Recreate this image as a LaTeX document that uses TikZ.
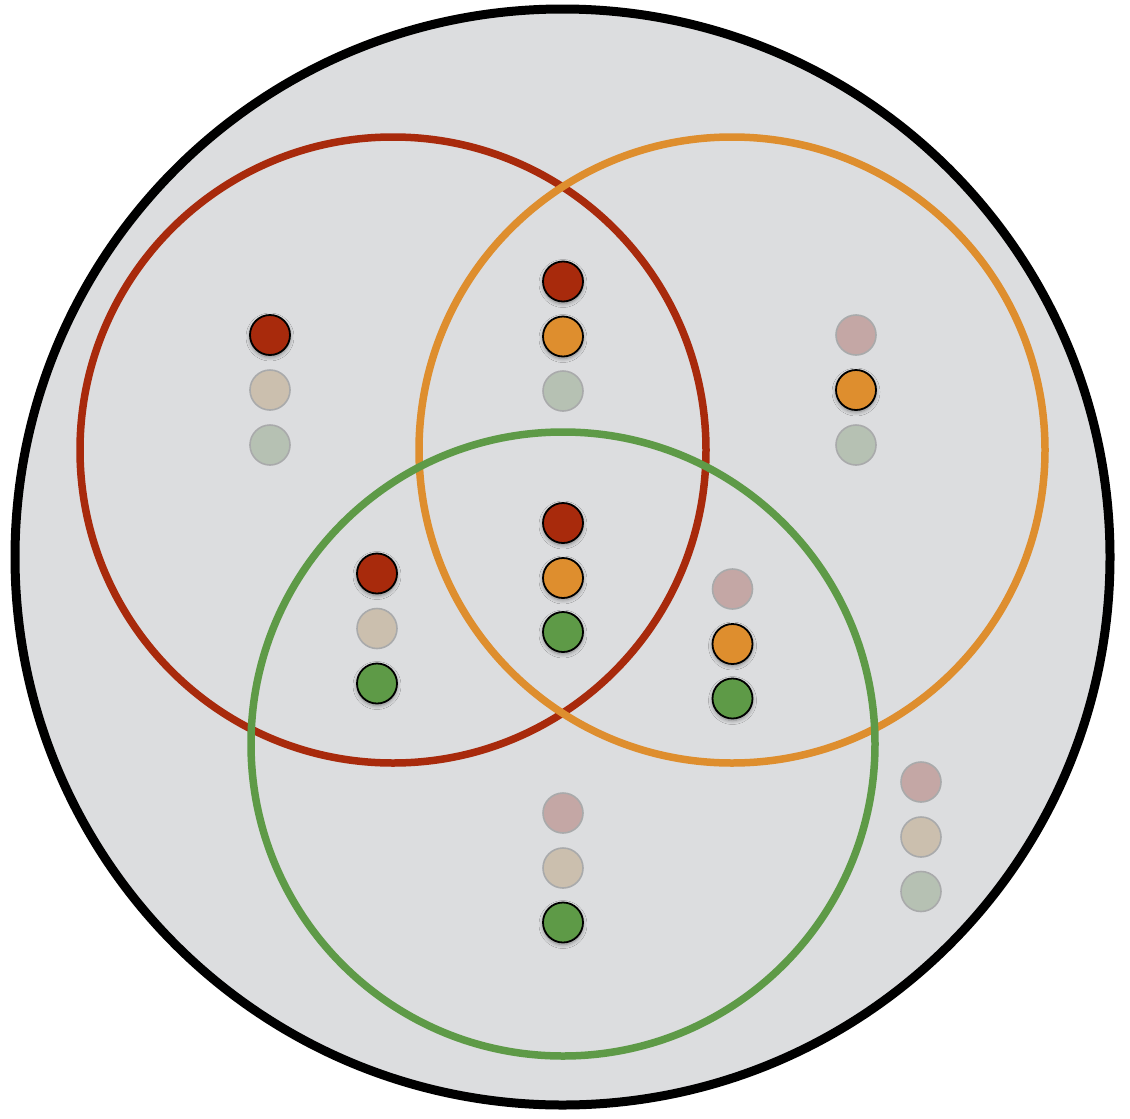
\documentclass[tikz,border=0pt]{standalone}
\usetikzlibrary{shadows.blur}
\definecolor{bgray}{HTML}{DCDDDF}
\definecolor{cred}{HTML}{A82A0C}
\definecolor{corange}{HTML}{DE8E2E}
\definecolor{cgreen}{HTML}{5E9A47}
\definecolor{fred}{HTML}{C4A7A5}
\definecolor{ftan}{HTML}{CBBFAE}
\definecolor{fgreen}{HTML}{B6C1B3}
\definecolor{fborder}{HTML}{A9AAAB}
\tikzset{
  dot/.style={circle, minimum size=40pt, inner sep=0pt, line width=1.8pt, draw=black,
    blur shadow={shadow xshift=0pt, shadow yshift=-2pt, shadow blur steps=8, shadow blur radius=4pt, shadow opacity=40}},
  fdot/.style={circle, minimum size=40pt, inner sep=0pt, line width=1.6pt, draw=fborder},
  ring/.style={line width=7.5pt},
}
\begin{document}
\begin{tikzpicture}[x=1pt,y=-1pt]
\useasboundingbox (0,0) rectangle (1130,1119);
\fill[white] (0,0) rectangle (1130,1119);
% universe
\filldraw[fill=bgray, draw=black, line width=9pt] (562.5,557) ellipse [x radius=547.5, y radius=548];
% sets
\draw[ring, cred] (393,450) circle [radius=313];
\draw[ring, corange] (732,450) circle [radius=313];
\draw[ring, cgreen] (563,744) circle [radius=312];
% red only
\node[dot, fill=cred] (r1) at (270,335) {};
\node[fdot, fill=ftan] (r2) at (270,390) {};
\node[fdot, fill=fgreen] (r3) at (270,445) {};
% red & orange
\node[dot, fill=cred] (ro1) at (563,281.5) {};
\node[dot, fill=corange] (ro2) at (563,336.5) {};
\node[fdot, fill=fgreen] (ro3) at (563,391) {};
% orange only
\node[fdot, fill=fred] (o1) at (856,335) {};
\node[dot, fill=corange] (o2) at (856,390) {};
\node[fdot, fill=fgreen] (o3) at (856,445) {};
% all three
\node[dot, fill=cred] (a1) at (563,523) {};
\node[dot, fill=corange] (a2) at (563,578) {};
\node[dot, fill=cgreen] (a3) at (563,632) {};
% red & green
\node[dot, fill=cred] (rg1) at (377,573.5) {};
\node[fdot, fill=ftan] (rg2) at (377,628.5) {};
\node[dot, fill=cgreen] (rg3) at (377,683.5) {};
% orange & green
\node[fdot, fill=fred] (og1) at (732.5,589) {};
\node[dot, fill=corange] (og2) at (732.5,644) {};
\node[dot, fill=cgreen] (og3) at (732.5,698.5) {};
% green only
\node[fdot, fill=fred] (g1) at (563,813) {};
\node[fdot, fill=ftan] (g2) at (563,868) {};
\node[dot, fill=cgreen] (g3) at (563,922.5) {};
% outside
\node[fdot, fill=fred] (n1) at (921,782) {};
\node[fdot, fill=ftan] (n2) at (921,837) {};
\node[fdot, fill=fgreen] (n3) at (921,891.5) {};
\end{tikzpicture}
\end{document}
